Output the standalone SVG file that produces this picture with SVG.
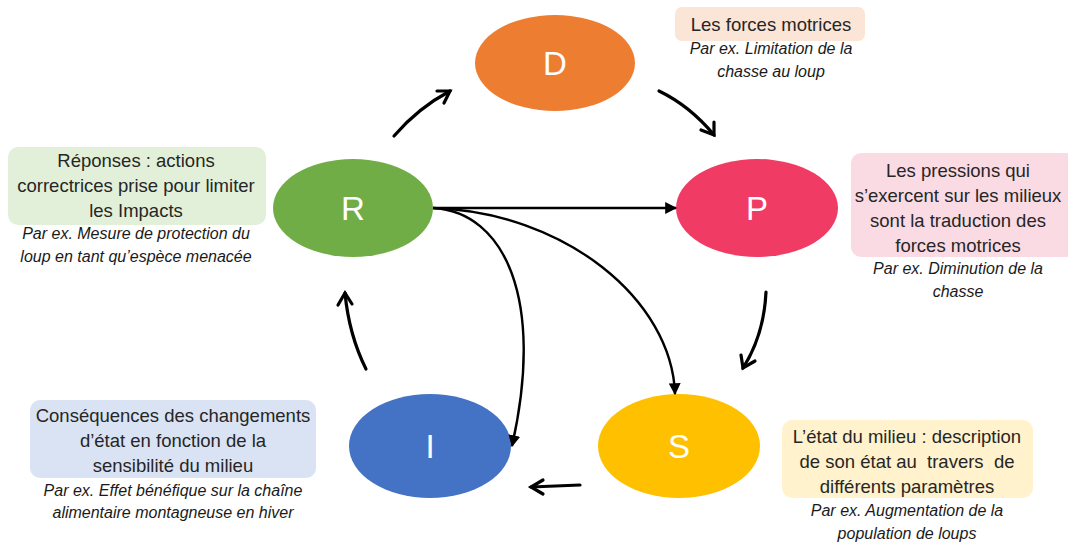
<svg xmlns="http://www.w3.org/2000/svg" width="1068" height="542" viewBox="0 0 1068 542">
<defs>
<style>
.lbl{font-family:"Liberation Sans",Arial,sans-serif;font-size:18.5px;fill:#262626;text-anchor:middle}
.ex{font-family:"Liberation Sans",Arial,sans-serif;font-size:16px;font-style:italic;fill:#1a1a1a;text-anchor:middle}
.big{font-family:"Liberation Sans",Arial,sans-serif;font-size:33px;fill:#ffffff;text-anchor:middle}
.thick{fill:none;stroke:#000;stroke-width:3.2;stroke-linecap:round}
.thin{fill:none;stroke:#000;stroke-width:2.4}
.chev{fill:none;stroke:#000;stroke-width:3.2;stroke-linecap:round;stroke-linejoin:miter}
</style>
<marker id="tri" viewBox="0 0 10 10" refX="9" refY="5" markerWidth="5" markerHeight="5" markerUnits="strokeWidth" orient="auto">
<path d="M0,0 L10,5 L0,10 z" fill="#000"/>
</marker>
</defs>
<rect width="1068" height="542" fill="#fff"/>

<g id="node-D">
<ellipse cx="555" cy="63" rx="80" ry="48" fill="#ED7D31"/>
<text class="big" x="555" y="75">D</text>
<rect x="675" y="7" width="190" height="34" rx="7" fill="#FBE5D6"/>
<text class="lbl" x="771" y="31">Les forces motrices</text>
<text class="ex" x="771" y="54">Par ex. Limitation de la</text>
<text class="ex" x="771" y="77">chasse au loup</text>
</g>

<g id="node-P">
<ellipse cx="757" cy="208" rx="81" ry="49" fill="#F03C64"/>
<text class="big" x="757" y="220">P</text>
<rect x="851" y="153" width="230" height="104" rx="10" fill="#FADBE3"/>
<text class="lbl" x="958" y="177">Les pressions qui</text>
<text class="lbl" x="958" y="202">s’exercent sur les milieux</text>
<text class="lbl" x="958" y="227">sont la traduction des</text>
<text class="lbl" x="958" y="252">forces motrices</text>
<text class="ex" x="958" y="274">Par ex. Diminution de la</text>
<text class="ex" x="958" y="297">chasse</text>
</g>

<g id="node-R">
<ellipse cx="353" cy="208" rx="80" ry="49" fill="#70AD47"/>
<text class="big" x="353" y="220">R</text>
<rect x="8" y="147" width="258" height="78" rx="10" fill="#E2F0D9"/>
<text class="lbl" x="136" y="167">Réponses : actions</text>
<text class="lbl" x="136" y="192">correctrices prise pour limiter</text>
<text class="lbl" x="136" y="217">les Impacts</text>
<text class="ex" x="136" y="239">Par ex. Mesure de protection du</text>
<text class="ex" x="136" y="262">loup en tant qu’espèce menacée</text>
</g>

<g id="node-I">
<ellipse cx="430" cy="446" rx="81" ry="52" fill="#4472C4"/>
<text class="big" x="430" y="458">I</text>
<rect x="30" y="400" width="286" height="78" rx="10" fill="#DAE3F3"/>
<text class="lbl" x="173" y="422">Conséquences des changements</text>
<text class="lbl" x="173" y="447">d’état en fonction de la</text>
<text class="lbl" x="173" y="472">sensibilité du milieu</text>
<text class="ex" x="173" y="496">Par ex. Effet bénéfique sur la chaîne</text>
<text class="ex" x="173" y="518">alimentaire montagneuse en hiver</text>
</g>

<g id="node-S">
<ellipse cx="679" cy="446" rx="81" ry="52" fill="#FFC000"/>
<text class="big" x="679" y="458">S</text>
<rect x="782" y="420" width="251" height="78" rx="10" fill="#FFF2CC"/>
<text class="lbl" x="907" y="443">L’état du milieu : description</text>
<text class="lbl" x="907" y="468" style="white-space:pre">de son état au  travers  de</text>
<text class="lbl" x="907" y="493">différents paramètres</text>
<text class="ex" x="907" y="516">Par ex. Augmentation de la</text>
<text class="ex" x="907" y="539">population de loups</text>
</g>

<g id="connectors">
<path class="thick" d="M394,136 Q418,108 450,91"/>
<path class="chev" d="M437,91 L450,91 L444,103"/>
<path class="thick" d="M659,91 Q690,106 714,135"/>
<path class="chev" d="M701,130 L714,135 L714,122"/>
<path class="thick" d="M766,292 Q764,335 743,368"/>
<path class="chev" d="M741,355 L743,368 L755,361"/>
<path class="thick" d="M580,485 Q556,486 531,487"/>
<path class="chev" d="M543,480 L531,487 L543,494"/>
<path class="thick" d="M366,369 Q349,335 345,293"/>
<path class="chev" d="M338,305 L345,293 L352,304"/>
<path class="thin" d="M433,208 L676,208" marker-end="url(#tri)"/>
<path class="thin" d="M433,208 C565,212 672,300 675,394" marker-end="url(#tri)"/>
<path class="thin" d="M433,208 C505,212 545,300 512,446" marker-end="url(#tri)"/>
</g>
</svg>
